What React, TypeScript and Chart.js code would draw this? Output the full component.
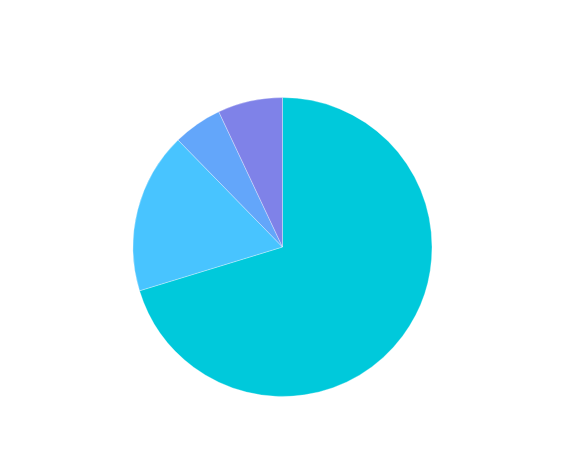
import React, { useEffect, useRef } from "react";
import { Chart, registerables } from "chart.js";

Chart.register(...registerables);

const categories = ["A", "B", "C", "D"];
const values = [70.2, 17.4, 5.3, 7.0];
const colors = ["#00c9db", "#48c4ff", "#63a6fa", "#7f82e8"];

export default function App() {
  const ref = useRef<HTMLCanvasElement | null>(null);
  useEffect(() => {
    if (!ref.current) return;
    const chart = new Chart(ref.current, {
      type: "pie",
      data: {
        labels: categories,
        datasets: [
          {
            data: values,
            backgroundColor: colors,
            borderColor: "rgba(255,255,255,0.3)",
            borderWidth: 1,
          },
        ],
      },
      options: {
        animation: false,
        responsive: true,
        maintainAspectRatio: false,
        layout: { padding: { top: 89, bottom: 56, left: 3, right: 0 } },
        plugins: {
          legend: { display: false },
          title: { display: false },
          tooltip: { enabled: false },
        },
      },
    });
    return () => chart.destroy();
  }, []);
  return (
    <div style={{ width: 546, height: 445, position: "relative" }}>
      <canvas ref={ref} />
    </div>
  );
}
